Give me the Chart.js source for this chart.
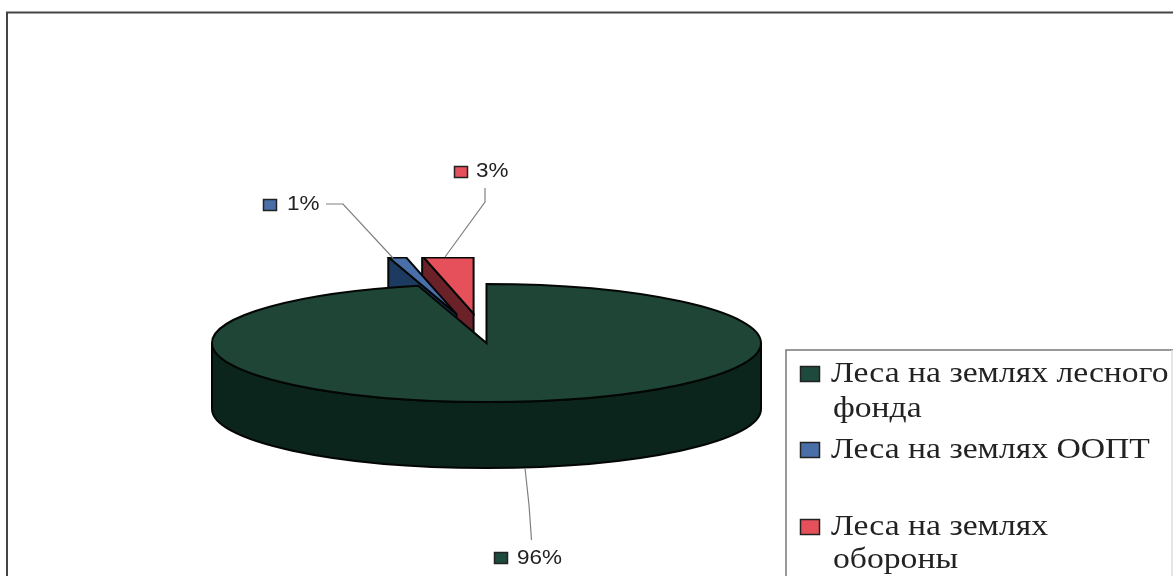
<!DOCTYPE html>
<html>
<head>
<meta charset="utf-8">
<title>Леса</title>
<script src="https://cdn.jsdelivr.net/npm/chart.js@4/dist/chart.umd.js"></script>
<style>
html, body { margin: 0; padding: 0; background: #fff; }
canvas { display: block; }
</style>
</head>
<body>
<canvas id="myChart" width="1173" height="576"></canvas>
<script>
const categories = ['Леса на землях лесного фонда', 'Леса на землях ООПТ', 'Леса на землях обороны'];
const values = [96, 1, 3];
const explode = [0, 0.5, 0.5];
const faceColors = ['#1f4536', '#4a6ea8', '#e6505a'];
const wallColors = ['#0b241c', '#1d3a60', '#6a2228'];
const markerColors = ['#1d4a3c', '#4a6ea8', '#e6505a'];

// pie geometry on the page
const cx = 486.5, cy = 343, rx = 274.5, ry = 59, depth = 66, clipTop = 257;

const labelSpots = [
    { x: 517, y: 564, mx: 494, my: 552, line: [[525, 468], [529, 505], [531.5, 540]] },
    { x: 287, y: 210, mx: 263, my: 199, line: [[326, 204], [343, 204], [393, 258]] },
    { x: 476, y: 177, mx: 454, my: 166, line: [[485, 188], [485, 202], [445, 257]] }
];
const legendRows = [
    { idx: 0, my: 366, lines: [['Леса на землях лесного', 382, 831], ['фонда', 417, 833]] },
    { idx: 1, my: 442, lines: [['Леса на землях ООПТ', 458, 831]] },
    { idx: 2, my: 519, lines: [['Леса на землях', 535, 831], ['обороны', 568, 833]] }
];

function offsetOf(arc, i) {
    const mid = (arc.startAngle + arc.endAngle) / 2;
    return [Math.cos(mid) * rx * explode[i], Math.sin(mid) * ry * explode[i]];
}

function slicePath(arc, ox, oy) {
    const p = new Path2D();
    p.moveTo(cx + ox, cy + oy);
    p.ellipse(cx + ox, cy + oy, rx, ry, 0, arc.startAngle, arc.endAngle);
    p.closePath();
    return p;
}

function drawWall(ctx, arc, i, ox, oy) {
    ctx.fillStyle = wallColors[i];
    ctx.strokeStyle = '#030605';
    ctx.lineWidth = 2;
    ctx.beginPath();
    if (explode[i] > 0) {
        // radial edge that faces the viewer
        const ex = cx + ox + Math.cos(arc.startAngle) * rx;
        const ey = cy + oy + Math.sin(arc.startAngle) * ry;
        ctx.moveTo(cx + ox, cy + oy);
        ctx.lineTo(ex, ey);
        ctx.lineTo(ex, ey + depth);
        ctx.lineTo(cx + ox, cy + oy + depth);
    } else {
        ctx.ellipse(cx, cy, rx, ry, 0, 0, Math.PI);
        ctx.ellipse(cx, cy + depth, rx, ry, 0, Math.PI, 0, true);
    }
    ctx.closePath();
    ctx.fill();
    ctx.stroke();
}

// stretched text, the scan is wider than it is tall
function wideText(ctx, text, x, y, sx) {
    ctx.save();
    ctx.translate(x, y);
    ctx.scale(sx, 1);
    ctx.fillText(text, 0, 0);
    ctx.restore();
}

const pie3d = {
    id: 'pie3d',
    beforeDraw(chart) {
        const ctx = chart.ctx;
        ctx.save();
        ctx.fillStyle = '#fff';
        ctx.fillRect(0, 0, chart.width, chart.height);
        ctx.strokeStyle = '#444';
        ctx.lineWidth = 2;
        ctx.beginPath();
        ctx.moveTo(7, 576);
        ctx.lineTo(7, 12.5);
        ctx.lineTo(1173, 12.5);
        ctx.stroke();
        ctx.restore();
    },
    beforeDatasetDraw(chart, args) {
        const ctx = chart.ctx;
        const arcs = args.meta.data;
        // back slices first, the big one covers their walls
        [2, 1, 0].forEach(i => {
            const arc = arcs[i];
            const [ox, oy] = offsetOf(arc, i);
            ctx.save();
            if (explode[i] > 0) {
                ctx.beginPath();
                ctx.rect(0, clipTop, chart.width, chart.height);
                ctx.clip();
            }
            drawWall(ctx, arc, i, ox, oy);
            ctx.save();
            ctx.translate(cx + ox, cy + oy);
            ctx.scale(rx / arc.outerRadius, ry / arc.outerRadius);
            ctx.translate(-arc.x, -arc.y);
            arc.draw(ctx);
            ctx.restore();
            const path = slicePath(arc, ox, oy);
            ctx.strokeStyle = '#030605';
            ctx.lineWidth = 2;
            ctx.stroke(path);
            if (explode[i] > 0) {
                ctx.clip(path);
                ctx.lineWidth = 3;
                ctx.beginPath();
                ctx.moveTo(0, clipTop);
                ctx.lineTo(chart.width, clipTop);
                ctx.stroke();
            }
            ctx.restore();
        });
        return false;
    },
    afterDraw(chart) {
        const ctx = chart.ctx;
        ctx.save();
        // value labels with leader lines
        values.forEach((v, i) => {
            const s = labelSpots[i];
            ctx.strokeStyle = '#808080';
            ctx.lineWidth = 1.2;
            ctx.beginPath();
            s.line.forEach((p, k) => k ? ctx.lineTo(p[0], p[1]) : ctx.moveTo(p[0], p[1]));
            ctx.stroke();
            ctx.fillStyle = markerColors[i];
            ctx.strokeStyle = '#222';
            ctx.lineWidth = 1.5;
            ctx.fillRect(s.mx, s.my, 14, 12);
            ctx.strokeRect(s.mx + 0.5, s.my + 0.5, 13, 11);
            ctx.fillStyle = '#222';
            ctx.font = '21px "Liberation Sans"';
            wideText(ctx, v + '%', s.x, s.y, 1.07);
        });
        // legend box, open at the bottom and cut by the page edge
        ctx.strokeStyle = '#777';
        ctx.lineWidth = 1.5;
        ctx.beginPath();
        ctx.moveTo(786, 576);
        ctx.lineTo(786, 350);
        ctx.lineTo(1173, 350);
        ctx.stroke();
        ctx.strokeStyle = '#ddd';
        ctx.beginPath();
        ctx.moveTo(1172, 350);
        ctx.lineTo(1172, 576);
        ctx.stroke();
        legendRows.forEach(r => {
            ctx.fillStyle = markerColors[r.idx];
            ctx.strokeStyle = '#222';
            ctx.lineWidth = 1.5;
            ctx.fillRect(800, r.my, 20, 16);
            ctx.strokeRect(800.5, r.my + 0.5, 19, 15);
            ctx.fillStyle = '#222';
            ctx.font = '29px "Liberation Serif"';
            r.lines.forEach(l => wideText(ctx, l[0], l[2], l[1], 1.16));
        });
        ctx.restore();
    }
};

new Chart(document.getElementById('myChart').getContext('2d'), {
    type: 'pie',
    data: {
        labels: categories,
        datasets: [{
            data: values,
            backgroundColor: faceColors,
            borderWidth: 0
        }]
    },
    options: {
        responsive: false,
        animation: false,
        plugins: { legend: { display: false }, tooltip: { enabled: false } }
    },
    plugins: [pie3d]
});
</script>
</body>
</html>
